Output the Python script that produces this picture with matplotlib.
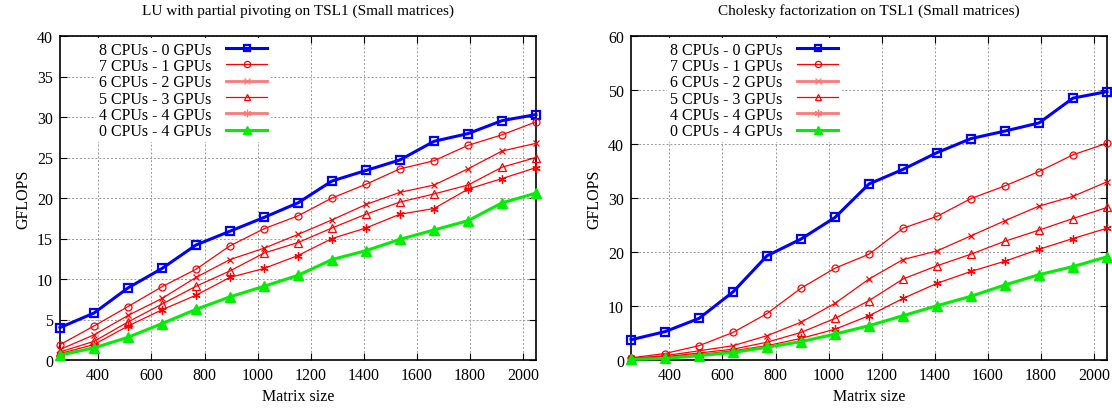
import numpy as np
import matplotlib.pyplot as plt
from matplotlib.lines import Line2D

plt.rcParams['font.family'] = ['Liberation Serif', 'DejaVu Serif']

sizes = [256, 384, 512, 640, 768, 896, 1024, 1152, 1280, 1408, 1536, 1664, 1792, 1920, 2048]
labels = ['8 CPUs - 0 GPUs', '7 CPUs - 1 GPUs', '6 CPUs - 2 GPUs',
          '5 CPUs - 3 GPUs', '4 CPUs - 4 GPUs', '0 CPUs - 4 GPUs']

# LU with partial pivoting (GFLOPS)
lu_8_0 = [4.0, 5.8, 8.9, 11.3, 14.2, 15.9, 17.6, 19.4, 22.1, 23.4, 24.7, 27.0, 27.95, 29.55, 30.3]
lu_7_1 = [1.9, 4.2, 6.6, 9.05, 11.2, 14.1, 16.2, 17.8, 20.0, 21.7, 23.6, 24.6, 26.5, 27.8, 29.4]
lu_6_2 = [1.3, 3.1, 5.5, 7.6, 10.2, 12.4, 13.8, 15.5, 17.3, 19.2, 20.7, 21.6, 23.6, 25.8, 26.75]
lu_5_3 = [1.0, 2.3, 4.7, 6.9, 9.1, 11.0, 13.2, 14.5, 16.3, 18.0, 19.5, 20.5, 21.6, 23.8, 25.0]
lu_4_4 = [0.8, 1.9, 4.2, 6.2, 8.0, 10.2, 11.3, 12.9, 15.0, 16.3, 18.0, 18.7, 21.1, 22.4, 23.75]
lu_0_4 = [0.6, 1.5, 2.8, 4.5, 6.25, 7.8, 9.1, 10.45, 12.4, 13.5, 14.9, 16.05, 17.2, 19.4, 20.6]

# Cholesky factorization (GFLOPS)
ch_8_0 = [3.75, 5.25, 7.7, 12.6, 19.3, 22.4, 26.4, 32.6, 35.3, 38.4, 41.0, 42.4, 43.9, 48.5, 49.7]
ch_7_1 = [0.4, 1.2, 2.65, 5.1, 8.6, 13.3, 17.0, 19.6, 24.4, 26.6, 29.9, 32.25, 34.9, 38.0, 40.15]
ch_6_2 = [0.3, 0.8, 1.7, 2.65, 4.5, 7.0, 10.5, 15.0, 18.6, 20.2, 23.0, 25.8, 28.5, 30.3, 33.0]
ch_5_3 = [0.3, 0.6, 1.3, 2.0, 3.3, 5.1, 7.7, 11.0, 15.0, 17.45, 19.6, 22.0, 24.05, 26.2, 28.25]
ch_4_4 = [0.2, 0.5, 1.0, 1.7, 2.65, 4.0, 5.7, 8.2, 11.4, 14.2, 16.4, 18.3, 20.5, 22.5, 24.4]
ch_0_4 = [0.1, 0.3, 0.8, 1.4, 2.35, 3.4, 4.8, 6.35, 8.2, 10.05, 11.8, 13.9, 15.8, 17.3, 19.1]

styles = [
    dict(color='#0000ff', lw=2.2, marker='s', ms=5.5, mfc='none', mew=1.6),
    dict(color='#ff0000', lw=0.9, marker='o', ms=5, mfc='none', mew=0.9),
    dict(color='#ff0000', lw=0.9, marker='x', ms=5, mew=0.9),
    dict(color='#ff0000', lw=0.9, marker='^', ms=5.5, mfc='none', mew=0.9),
    dict(color='#ff0000', lw=0.9, marker=(6, 2, 0), ms=6, mew=0.9),
    dict(color='#00ee00', lw=2.2, marker='^', ms=7, mew=1.0),
]
legend_colors = ['#0000ff', '#ff0000', '#ff7878', '#ff0000', '#ff7878', '#00ee00']
legend_lw = [2.2, 0.9, 2.0, 0.9, 2.0, 2.2]


def draw(ax, series, title, ymax, ystep):
    for s, st in zip(series, styles):
        ax.plot(sizes, s, clip_on=False, zorder=3, **st)
    ax.set_xlim(256, 2048)
    ax.set_ylim(0, ymax)
    ax.set_xticks(np.arange(400, 2001, 200))
    ax.set_yticks(np.arange(0, ymax + 1, ystep))
    ax.tick_params(direction='in', top=True, right=True, labelsize=11.5, length=5, pad=5)
    ax.grid(True, ls=(0, (2, 2)), color='#999999', lw=0.7)
    for sp in ax.spines.values():
        sp.set_linewidth(1.2)
    ax.set_title(title, fontsize=11, pad=16)
    ax.set_xlabel('Matrix size', fontsize=11.5)
    ax.set_ylabel('GFLOPS', fontsize=11.5)
    handles = []
    for st, c, w in zip(styles, legend_colors, legend_lw):
        h = dict(st)
        h['color'] = c
        h['lw'] = w
        h['ms'] = h['ms'] * 0.9
        handles.append(Line2D([], [], **h))
    leg = ax.legend(handles, labels, loc='upper left', bbox_to_anchor=(0.07, 1.0),
                    markerfirst=False, frameon=True, framealpha=1, edgecolor='none',
                    fontsize=11.5, handlelength=2.6, labelspacing=0.02,
                    borderaxespad=0.15, borderpad=0.2, handletextpad=0.9)
    leg.get_frame().set_linewidth(0)


fig = plt.figure(figsize=(11.12, 4.14), dpi=100)
ax1 = fig.add_axes([60 / 1112, 1 - 361 / 414, 476 / 1112, 324 / 414])
ax2 = fig.add_axes([631 / 1112, 1 - 361 / 414, 476 / 1112, 324 / 414])

draw(ax1, [lu_8_0, lu_7_1, lu_6_2, lu_5_3, lu_4_4, lu_0_4],
     'LU with partial pivoting on TSL1 (Small matrices)', 40, 5)
draw(ax2, [ch_8_0, ch_7_1, ch_6_2, ch_5_3, ch_4_4, ch_0_4],
     'Cholesky factorization on TSL1 (Small matrices)', 60, 10)

fig.savefig('out.png', dpi=100)
